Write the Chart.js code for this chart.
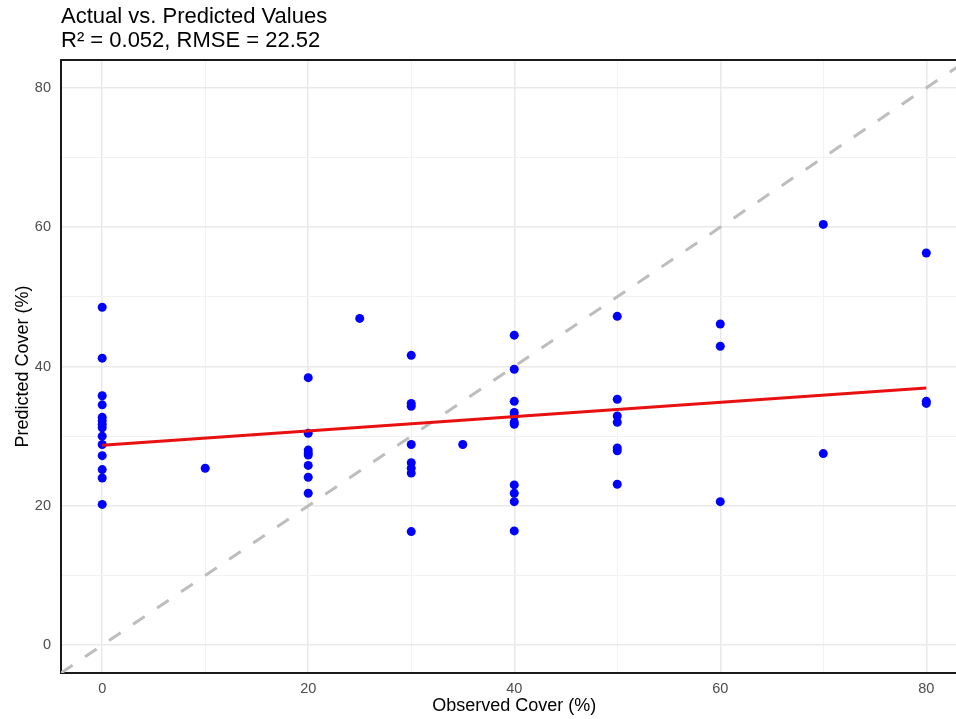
<!DOCTYPE html>
<html>
<head>
<meta charset="utf-8">
<script src="https://cdn.jsdelivr.net/npm/chart.js@4"></script>
<style>
  html, body { margin: 0; padding: 0; background: #ffffff; overflow: hidden; }
  #wrap { width: 956px; height: 719px; overflow: hidden; }
</style>
</head>
<body>
<div id="wrap"><canvas id="c" width="972" height="719"></canvas></div>
<script>
// ---- data ----
const observedCover = [
  0,0,0,0,0,0,0,0,0,0,0,0,0,0,
  10,
  20,20,20,20,20,20,20,20,
  25,
  30,30,30,30,30,30,30,30,
  35,
  40,40,40,40,40,40,40,40,40,40,40,
  50,50,50,50,50,50,50,
  60,60,60,
  70,70,
  80,80,80
];
const predictedCover = [
  48.5,41.2,35.8,34.5,32.7,32.2,31.7,31.2,30.0,28.8,27.2,25.2,24.0,20.2,
  25.4,
  38.4,30.4,28.0,27.6,27.3,25.8,24.1,21.8,
  46.9,
  41.6,34.7,34.3,28.8,26.2,25.4,24.7,16.3,
  28.8,
  44.5,39.6,35.0,33.4,32.9,32.0,31.7,23.0,21.8,20.6,16.4,
  47.2,35.3,32.9,32.0,28.3,27.9,23.1,
  46.1,42.9,20.6,
  60.4,27.5,
  56.3,35.0,34.7
];
const fitX = [0, 80];
const fitY = [28.7, 36.9];
const identityLine = [-4, 84];
const xRange = [-4, 84];
const yRange = [-4, 84];
const gridValues = [0, 10, 20, 30, 40, 50, 60, 70, 80];
const labelValues = [0, 20, 40, 60, 80];
const titleLines = ['Actual vs. Predicted Values', 'R\u00B2 = 0.052, RMSE = 22.52'];
const xTitle = 'Observed Cover (%)';
const yTitle = 'Predicted Cover (%)';

// ---- build chart ----
const FONT = "'Liberation Sans', Arial, sans-serif";
const pts = observedCover.map((x, i) => ({ x: x, y: predictedCover[i] }));
const fitPts = fitX.map((x, i) => ({ x: x, y: fitY[i] }));
const idPts = identityLine.map(v => ({ x: v, y: v }));

const gridColor = ctx => (labelValues.includes(ctx.tick && ctx.tick.value) ? '#e9e9e9' : '#f2f2f2');
const gridWidth = ctx => (labelValues.includes(ctx.tick && ctx.tick.value) ? 1.5 : 1);
const setTicks = scale => { scale.ticks = gridValues.map(v => ({ value: v })); };
const tickLabel = v => (labelValues.includes(v) ? String(v) : '');

const panelBorder = {
  id: 'panelBorder',
  afterDatasetsDraw(chart) {
    const a = chart.chartArea, c = chart.ctx;
    c.save();
    c.strokeStyle = '#1a1a1a';
    c.lineWidth = 2;
    c.beginPath();
    c.moveTo(a.left, a.top);
    c.lineTo(a.right, a.top);
    c.stroke();
    c.restore();
  }
};

new Chart(document.getElementById('c'), {
  type: 'scatter',
  data: {
    datasets: [
      {
        label: 'fit',
        data: fitPts,
        showLine: true,
        borderColor: '#e81010',
        borderWidth: 3,
        pointRadius: 0,
        fill: false,
        order: 1
      },
      {
        label: 'points',
        data: pts,
        backgroundColor: '#0000ff',
        borderWidth: 0,
        pointRadius: 4.5,
        order: 2
      },
      {
        label: 'identity',
        data: idPts,
        showLine: true,
        borderColor: '#bdbdbd',
        borderWidth: 3,
        borderDash: [14, 15],
        borderCapStyle: 'butt',
        pointRadius: 0,
        fill: false,
        order: 3
      }
    ]
  },
  options: {
    responsive: false,
    animation: false,
    events: [],
    layout: { padding: { left: 0, right: 0, top: 0, bottom: 0 } },
    plugins: {
      legend: { display: false },
      tooltip: { enabled: false },
      title: {
        display: true,
        text: titleLines,
        align: 'start',
        fullSize: false,
        color: '#000000',
        font: { family: FONT, size: 22, weight: 'normal', lineHeight: 24 / 22 },
        padding: { top: 5, bottom: 7 }
      }
    },
    scales: {
      x: {
        type: 'linear',
        min: xRange[0],
        max: xRange[1],
        afterBuildTicks: setTicks,
        afterFit: s => { s.height = 46; },
        grid: { color: gridColor, lineWidth: gridWidth, drawTicks: false },
        border: { display: true, color: '#1a1a1a', width: 2 },
        ticks: {
          callback: tickLabel,
          color: '#4d4d4d',
          padding: 7,
          maxRotation: 0,
          autoSkip: false,
          font: { family: FONT, size: 14.5 }
        },
        title: {
          display: true,
          text: xTitle,
          color: '#000000',
          font: { family: FONT, size: 18, lineHeight: 1.2 },
          padding: { top: 0, bottom: 2 }
        }
      },
      y: {
        type: 'linear',
        min: yRange[0],
        max: yRange[1],
        afterBuildTicks: setTicks,
        afterFit: s => { s.width = 61; },
        grid: { color: gridColor, lineWidth: gridWidth, drawTicks: false },
        border: { display: true, color: '#1a1a1a', width: 2 },
        ticks: {
          callback: tickLabel,
          color: '#4d4d4d',
          padding: 10,
          autoSkip: false,
          font: { family: FONT, size: 14.5 }
        },
        title: {
          display: true,
          text: yTitle,
          color: '#000000',
          font: { family: FONT, size: 18, lineHeight: 1.2 },
          padding: { top: 12, bottom: 0 }
        }
      }
    }
  },
  plugins: [panelBorder]
});
</script>
</body>
</html>
